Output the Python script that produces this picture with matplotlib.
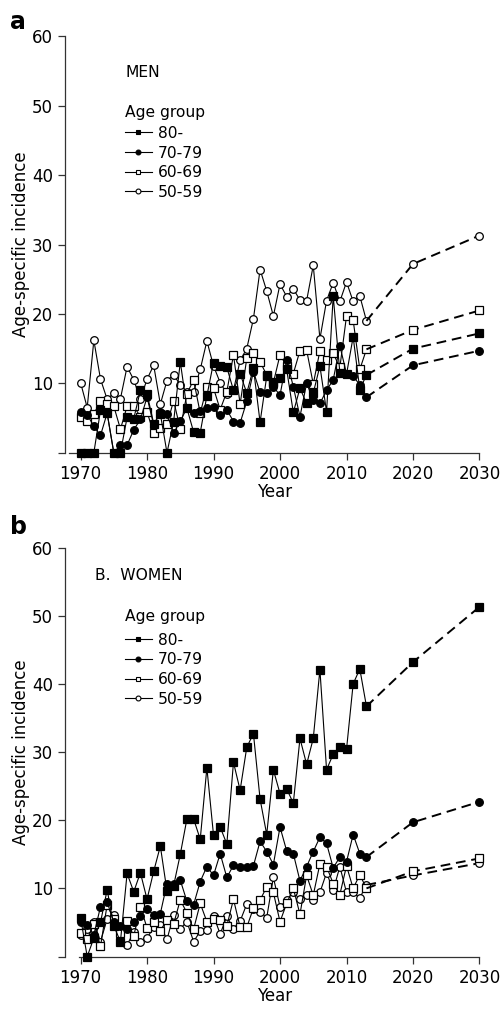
import matplotlib
matplotlib.use("Agg")
import matplotlib.pyplot as plt
from matplotlib.lines import Line2D

years = list(range(1970, 2014))
proj_years = [2013, 2020, 2030]
groups = ["80-", "70-79", "60-69", "50-59"]

# Men (panel a)
men_80 = [0, 0, 0, 6.1, 5.7, 0, 0, 5.1, 4.9, 9.0,
          8.5, 4.2, 5.6, 0, 4.5, 13.1, 6.4, 3.0, 2.9, 8.2,
          13.0, 12.5, 12.3, 9.0, 11.4, 8.6, 12.2, 4.4, 11.0, 10.2,
          10.7, 12.0, 5.8, 9.3, 7.1, 8.6, 12.5, 5.9, 22.6, 11.5,
          11.3, 16.7, 9.1, 11.2]
men_70 = [5.9, 5.5, 3.8, 2.5, 5.7, 0, 1.1, 1.1, 3.3, 4.8,
          8.0, 4.0, 5.8, 5.6, 2.8, 4.6, 6.4, 5.7, 6.0, 6.5,
          6.6, 5.4, 6.2, 4.5, 4.3, 7.4, 11.7, 8.7, 8.6, 9.5,
          8.3, 13.4, 9.5, 5.2, 10.0, 7.6, 7.1, 9.0, 10.5, 15.4,
          11.4, 11.0, 9.8, 8.0]
men_60 = [5.2, 4.6, 5.6, 7.4, 7.0, 6.7, 3.4, 6.7, 6.7, 5.2,
          5.9, 2.8, 3.5, 4.1, 7.5, 3.4, 8.5, 10.5, 5.7, 9.5,
          9.3, 6.2, 8.8, 14.1, 7.0, 13.6, 14.4, 13.1, 11.2, 10.1,
          14.1, 12.5, 11.4, 14.7, 14.8, 9.9, 14.7, 13.4, 14.3, 12.3,
          19.7, 19.1, 12.0, 14.9]
men_50 = [10.1, 6.5, 16.2, 10.6, 7.7, 8.6, 7.8, 12.4, 10.5, 7.7,
          10.6, 12.6, 7.0, 10.4, 11.2, 9.8, 8.8, 8.8, 12.0, 16.1,
          12.5, 10.1, 8.5, 9.0, 13.3, 15.0, 19.3, 26.4, 23.3, 19.7,
          24.3, 22.5, 23.6, 22.0, 21.9, 27.0, 16.4, 21.9, 24.5, 21.8,
          24.6, 21.8, 22.6, 19.0]
men_proj = {"80-": [15.0, 17.2], "70-79": [12.6, 14.7],
            "60-69": [17.7, 20.5], "50-59": [27.2, 31.3]}

# Women (panel b)
women_80 = [5.7, 0, 2.7, 5.0, 9.8, 4.5, 2.2, 12.2, 9.5, 12.3,
            8.4, 12.5, 16.2, 9.6, 10.4, 15.0, 20.2, 20.2, 17.2, 27.7,
            17.8, 19.0, 16.5, 28.5, 24.4, 30.7, 32.7, 23.1, 17.9, 27.4,
            23.9, 24.6, 22.5, 32.0, 28.2, 32.0, 42.1, 27.4, 29.7, 30.8,
            30.4, 40.0, 42.2, 36.7]
women_70 = [5.1, 4.6, 3.2, 7.3, 8.0, 5.0, 4.5, 4.0, 5.0, 6.0,
            7.0, 6.1, 6.3, 10.7, 10.6, 11.2, 8.1, 7.6, 11.0, 13.2,
            11.9, 15.1, 11.6, 13.4, 13.2, 13.2, 13.3, 16.9, 15.4, 13.5,
            19.0, 15.5, 15.1, 11.1, 13.2, 15.4, 17.5, 16.6, 13.0, 14.6,
            13.9, 17.9, 15.1, 14.6]
women_60 = [3.4, 2.5, 4.8, 1.5, 7.6, 5.5, 3.5, 5.2, 3.0, 7.3,
            4.2, 5.0, 3.8, 5.4, 4.8, 8.3, 6.4, 4.0, 7.8, 5.1,
            5.5, 5.3, 4.5, 8.4, 4.3, 4.3, 7.1, 8.3, 10.2, 9.4,
            5.1, 7.8, 10.0, 6.2, 11.9, 9.0, 13.6, 13.2, 10.7, 9.1,
            13.3, 10.0, 12.0, 10.0]
women_50 = [3.2, 4.0, 5.1, 2.2, 5.5, 6.1, 3.0, 1.7, 3.6, 2.1,
            2.7, 4.3, 4.6, 2.5, 6.1, 4.1, 5.1, 2.2, 3.7, 3.9,
            6.0, 3.3, 5.9, 4.1, 5.2, 7.7, 7.0, 6.6, 5.7, 11.6,
            7.3, 8.3, 9.4, 8.4, 9.1, 8.3, 9.4, 12.3, 9.7, 13.2,
            9.4, 9.4, 8.6, 10.5]
women_proj = {"80-": [43.2, 51.3], "70-79": [19.7, 22.7],
              "60-69": [12.5, 14.4], "50-59": [11.9, 13.7]}

styles = {"80-": ("s", "black"), "70-79": ("o", "black"),
          "60-69": ("s", "white"), "50-59": ("o", "white")}

plt.rcParams['font.family'] = ['DejaVu Sans']

fig = plt.figure(figsize=(5.02, 10.09), dpi=100)
ax_a = fig.add_axes([0.1300, 0.5513, 0.8331, 0.4127])
ax_b = fig.add_axes([0.1300, 0.0520, 0.8331, 0.4053])


def draw_panel(ax, series, proj, title, title_x, title_y, group_y, leg_y):
    for g in ["50-59", "60-69", "70-79", "80-"]:
        m, fc = styles[g]
        vals = series[g]
        ax.plot(years, vals, color="black", lw=0.8, marker=m, ms=5.5,
                mfc=fc, mec="black", mew=0.9, clip_on=False, zorder=3)
        ax.plot(proj_years, [vals[-1]] + proj[g], color="black", lw=1.4,
                ls=(0, (5, 3)), marker=m, ms=5.5, mfc=fc, mec="black",
                mew=0.9, markevery=[1, 2], clip_on=False, zorder=3)
    ax.set_xlim(1967.7, 2030.6)
    ax.set_ylim(0, 60)
    ax.set_xticks(range(1970, 2031, 10))
    ax.set_yticks(range(0, 61, 10))
    ax.set_yticklabels([""] + [str(v) for v in range(10, 61, 10)])
    for s in ["top", "right"]:
        ax.spines[s].set_visible(False)
    ax.spines["left"].set_bounds(0, 60)
    for s in ["left", "bottom"]:
        ax.spines[s].set_color("#333333")
        ax.spines[s].set_linewidth(0.9)
    ax.tick_params(direction="out", length=5, width=0.9, color="#333333",
                   labelsize=12, pad=4)
    ax.tick_params(axis="x", pad=4)
    ax.set_xlabel("Year", fontsize=12, labelpad=0)
    ax.set_ylabel("Age-specific incidence", fontsize=12, labelpad=1)
    ax.text(title_x, title_y, title, transform=ax.transAxes, fontsize=11.2,
            ha="left", va="center")
    ax.text(0.143, group_y, "Age group", transform=ax.transAxes,
            fontsize=11.2, ha="left", va="center")
    handles = [Line2D([], [], color="black", lw=0.8, marker=styles[g][0],
                      ms=3.5, mfc=styles[g][1], mec="black", mew=0.8)
               for g in groups]
    ax.legend(handles, groups, loc="upper left",
              bbox_to_anchor=(0.143, leg_y), frameon=False,
              fontsize=11.2, handlelength=1.7, handletextpad=0.4,
              labelspacing=0.3, borderpad=0, borderaxespad=0)


draw_panel(ax_a, {"80-": men_80, "70-79": men_70, "60-69": men_60,
                  "50-59": men_50}, men_proj, "MEN", 0.143, 0.914,
           0.818, 0.785)
ax_a.spines["bottom"].set_bounds(1968.3, 2030)
draw_panel(ax_b, {"80-": women_80, "70-79": women_70, "60-69": women_60,
                  "50-59": women_50}, women_proj, "B.  WOMEN", 0.071,
           0.931, 0.831, 0.792)
ax_b.spines["bottom"].set_bounds(1969.7, 2030)

fig.text(0.02, 0.978, "a", fontsize=17, fontweight="bold", va="center")
fig.text(0.02, 0.478, "b", fontsize=17, fontweight="bold", va="center")

fig.savefig("out.png", dpi=100)
